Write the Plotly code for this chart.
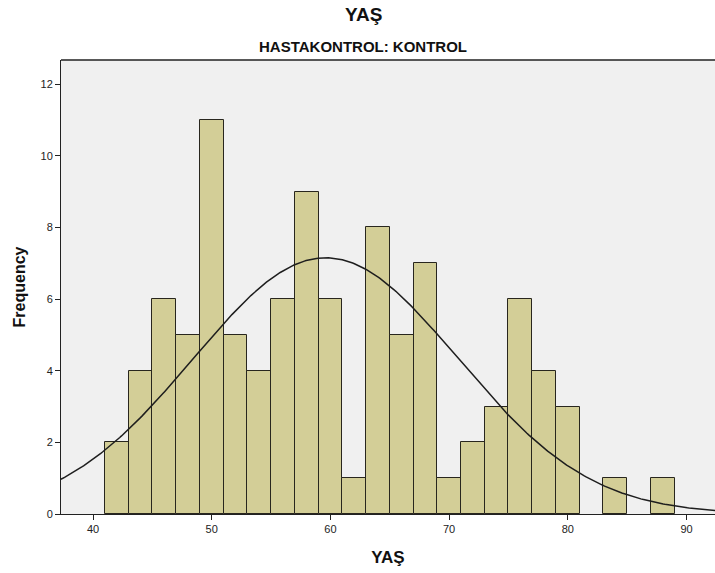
import numpy as np
import plotly.graph_objects as go

# Age histogram (2-year bins) for the control group
bin_left = [41, 43, 45, 47, 49, 51, 53, 55, 57, 59, 61, 63, 65, 67, 69, 71, 73, 75, 77, 79, 83, 87]
counts = [2, 4, 6, 5, 11, 5, 4, 6, 9, 6, 1, 8, 5, 7, 1, 2, 3, 6, 4, 3, 1, 1]
bin_width = 2

# Fitted normal curve parameters
mean_age = 59.6
sd_age = 11.16
n_total = sum(counts)

x_ticks = [40, 50, 60, 70, 80, 90]
y_ticks = [0, 2, 4, 6, 8, 10, 12]

centers = [b + bin_width / 2 for b in bin_left]

xs = np.linspace(36, 94, 400)
ys = n_total * bin_width / (sd_age * np.sqrt(2 * np.pi)) * np.exp(-0.5 * ((xs - mean_age) / sd_age) ** 2)

fig = go.Figure()
fig.add_trace(go.Bar(
    x=centers, y=counts, width=[bin_width] * len(counts),
    marker=dict(color="rgb(211,206,151)", line=dict(color="rgb(40,38,30)", width=1)),
    showlegend=False, hoverinfo="x+y",
))
fig.add_trace(go.Scatter(
    x=xs, y=ys, mode="lines",
    line=dict(color="rgb(30,30,30)", width=1.5),
    showlegend=False, hoverinfo="skip",
))

sans = "Arial, Liberation Sans, sans-serif"
fig.update_layout(
    width=715, height=573,
    margin=dict(l=61, r=0, t=60, b=59),
    paper_bgcolor="white",
    plot_bgcolor="rgb(240,240,240)",
    bargap=0,
    font=dict(family=sans, size=11, color="#222"),
    xaxis=dict(
        range=[37.3, 92.4], tickvals=x_ticks, ticks="outside", ticklen=5,
        tickcolor="#222", showgrid=False, zeroline=False,
        showline=True, linecolor="#222", linewidth=1,
        title=dict(text="<b>YAŞ</b>", font=dict(family=sans, size=17, color="#111"), standoff=16),
    ),
    yaxis=dict(
        range=[0, 12.67], tickvals=y_ticks, ticks="outside", ticklen=5,
        tickcolor="#222", showgrid=False, zeroline=False,
        showline=True, linecolor="#222", linewidth=1,
        title=dict(text="<b>Frequency</b>", font=dict(family=sans, size=16, color="#111"), standoff=10),
    ),
)

# chart title and subtitle, positioned in pixels above the plot area
plot_w = 715 - 61
plot_h = 573 - 60 - 59
title_x = (363 - 61) / plot_w
for text, top_px, fnt in [
    ("<b>YAŞ</b>", 14, dict(family=sans, size=19, color="#111")),
    ("<b>HASTAKONTROL: KONTROL</b>", 47, dict(family=sans, size=15, color="#111")),
]:
    fig.add_annotation(text=text, x=title_x, y=1 + (60 - top_px) / plot_h,
                       xref="paper", yref="paper", showarrow=False,
                       xanchor="center", yanchor="middle", font=fnt)

fig.add_shape(type="line", xref="paper", yref="paper", x0=0, x1=1, y0=1, y1=1,
              line=dict(color="#222", width=1.5))

fig.write_html("out.html")
